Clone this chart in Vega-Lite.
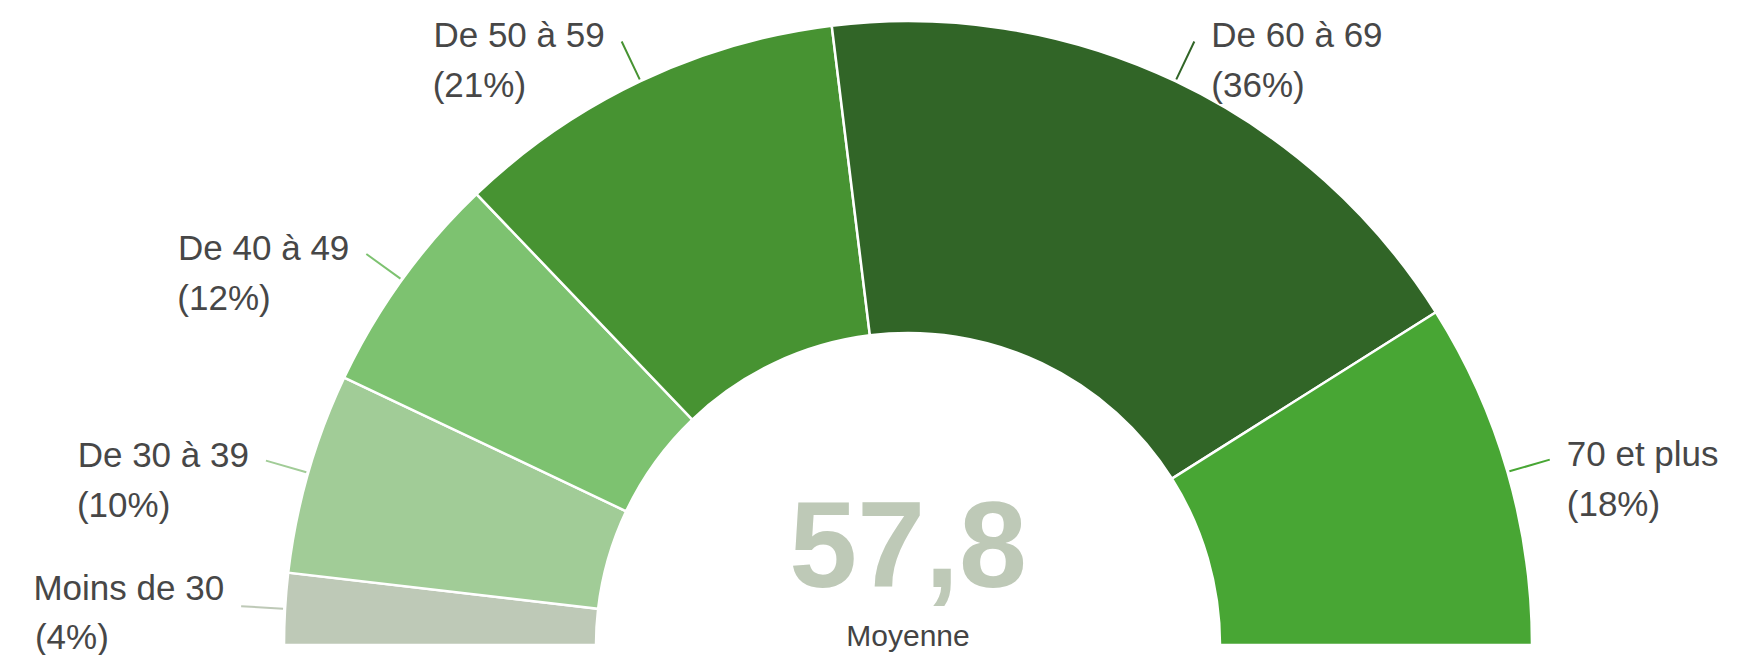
{
  "$schema": "https://vega.github.io/schema/vega-lite/v6.json",
  "width": 1704,
  "height": 645,
  "autosize": {"type": "none"},
  "padding": {"left": 56, "top": 0, "right": 0, "bottom": 10},
  "background": "white",
  "config": {"view": {"stroke": null}},
  "datasets": {
    "tranches": [
      {"ordre": 1, "tranche": "Moins de 30", "part": 3.7, "etiquette": "(4%)"},
      {"ordre": 2, "tranche": "De 30 à 39", "part": 10.4, "etiquette": "(10%)"},
      {"ordre": 3, "tranche": "De 40 à 49", "part": 11.6, "etiquette": "(12%)"},
      {"ordre": 4, "tranche": "De 50 à 59", "part": 20.4, "etiquette": "(21%)"},
      {"ordre": 5, "tranche": "De 60 à 69", "part": 36.0, "etiquette": "(36%)"},
      {"ordre": 6, "tranche": "70 et plus", "part": 17.9, "etiquette": "(18%)"}
    ],
    "centre": [
      {"moyenne": "57,8", "libelle": "Moyenne"}
    ]
  },
  "layer": [
    {
      "data": {"name": "tranches"},
      "mark": {"type": "arc", "outerRadius": 624, "innerRadius": 312, "y": "height", "stroke": "white", "strokeWidth": 2.5},
      "encoding": {
        "theta": {"field": "part", "type": "quantitative", "stack": true, "scale": {"range": [-1.5707963, 1.5707963]}},
        "order": {"field": "ordre", "type": "quantitative"},
        "color": {"field": "tranche", "type": "nominal", "legend": null,
          "scale": {"domain": ["Moins de 30", "De 30 à 39", "De 40 à 49", "De 50 à 59", "De 60 à 69", "70 et plus"],
                    "range": ["#BEC9B7", "#A1CC97", "#7DC270", "#479332", "#316527", "#48A634"]}}
      }
    },
    {
      "data": {"name": "tranches"},
      "mark": {"type": "arc", "outerRadius": 668, "innerRadius": 626, "padAngle": 3, "filled": false, "strokeWidth": 2, "y": "height"},
      "encoding": {
        "theta": {"field": "part", "type": "quantitative", "stack": true},
        "order": {"field": "ordre", "type": "quantitative"},
        "color": {"field": "tranche", "type": "nominal", "legend": null}
      }
    },
    {
      "data": {"name": "tranches"},
      "mark": {"type": "text", "radius": 668, "y": "height", "font": "Liberation Sans", "fontSize": 35, "baseline": "middle",
        "dy": {"expr": "(datum.part_start + datum.part_end) < 10 ? -17 : -5"},
        "align": {"expr": "(datum.part_start + datum.part_end) < 100 ? 'right' : 'left'"},
        "dx": {"expr": "(datum.part_start + datum.part_end) < 100 ? -17 : 17"}},
      "encoding": {
        "theta": {"field": "part", "type": "quantitative", "stack": true},
        "order": {"field": "ordre", "type": "quantitative"},
        "text": {"field": "tranche"},
        "color": {"value": "#474747"}
      }
    },
    {
      "data": {"name": "tranches"},
      "mark": {"type": "text", "radius": 668, "y": "height", "font": "Liberation Sans", "fontSize": 35, "baseline": "middle",
        "dy": {"expr": "(datum.part_start + datum.part_end) < 10 ? 32 : 45"},
        "align": "left",
        "dx": {"expr": "(datum.part_start + datum.part_end) < 100 ? -17 - length(datum.tranche) * 17.2 : 17"}},
      "encoding": {
        "theta": {"field": "part", "type": "quantitative", "stack": true},
        "order": {"field": "ordre", "type": "quantitative"},
        "text": {"field": "etiquette"},
        "color": {"value": "#474747"}
      }
    },
    {
      "data": {"name": "centre"},
      "mark": {"type": "text", "y": "height", "dy": -58, "font": "Liberation Sans", "fontSize": 122, "fontWeight": "bold", "baseline": "alphabetic", "align": "center", "color": "#BEC9B7"},
      "encoding": {"text": {"field": "moyenne"}}
    },
    {
      "data": {"name": "centre"},
      "mark": {"type": "text", "y": "height", "dy": 1, "font": "Liberation Sans", "fontSize": 30, "baseline": "alphabetic", "align": "center", "color": "#444444"},
      "encoding": {"text": {"field": "libelle"}}
    }
  ]
}
